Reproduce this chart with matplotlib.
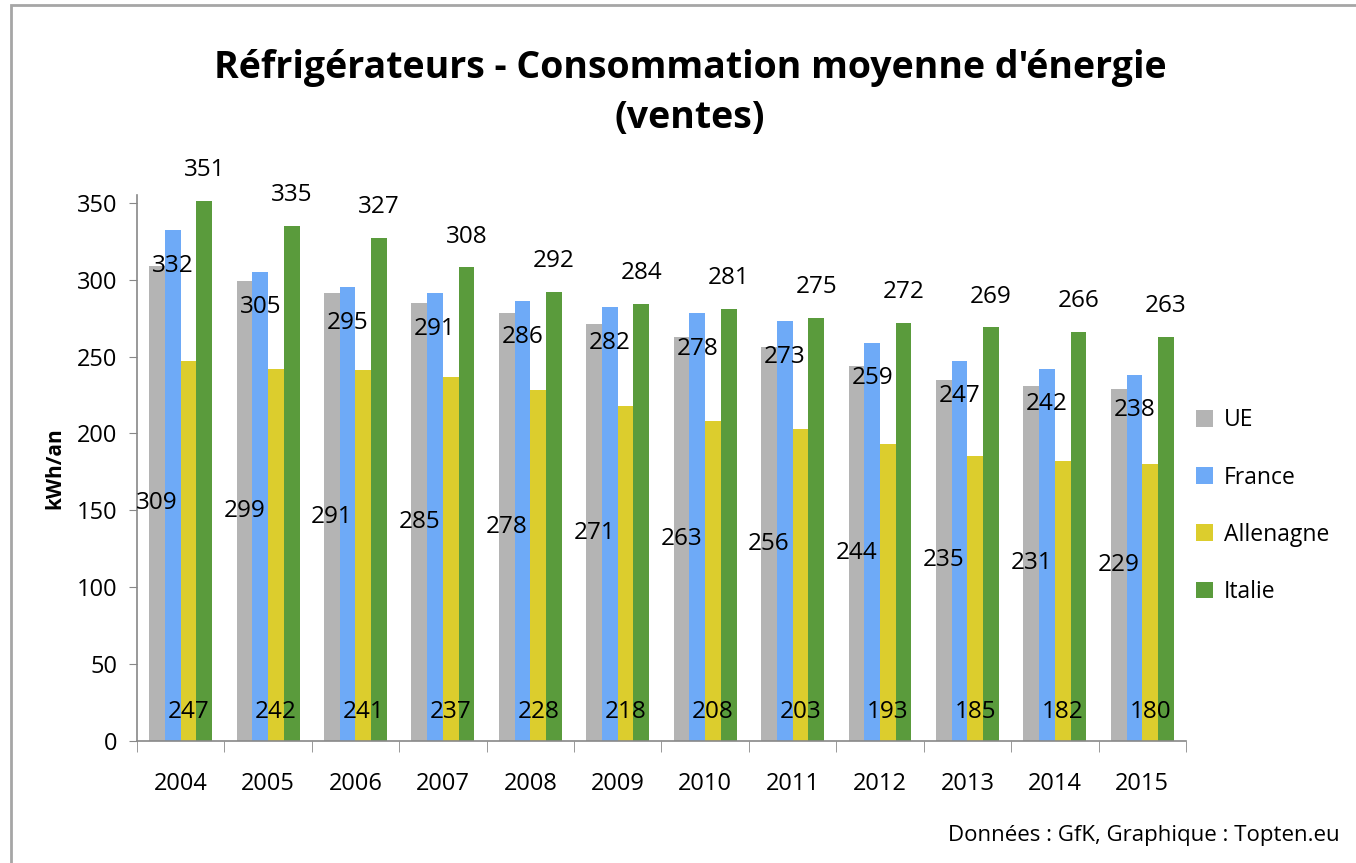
import numpy as np
import matplotlib
matplotlib.use('Agg')
import matplotlib.pyplot as plt
from matplotlib.patches import Rectangle

plt.rcParams['font.family'] = ['Open Sans', 'DejaVu Sans']

years = ['2004', '2005', '2006', '2007', '2008', '2009',
         '2010', '2011', '2012', '2013', '2014', '2015']
ue = [309, 299, 291, 285, 278, 271, 263, 256, 244, 235, 231, 229]
france = [332, 305, 295, 291, 286, 282, 278, 273, 259, 247, 242, 238]
allemagne = [247, 242, 241, 237, 228, 218, 208, 203, 193, 185, 182, 180]
italie = [351, 335, 327, 308, 292, 284, 281, 275, 272, 269, 266, 263]

names = ['UE', 'France', 'Allenagne', 'Italie']
colors = ['#b4b4b4', '#6eaaf7', '#dccd2d', '#5a9b3c']

fig = plt.figure(figsize=(13.56, 8.63), dpi=100)
ax = fig.add_axes([0.101, 0.1414, 0.7736, 0.6326])

# frame around the chart
fig.patches.append(Rectangle((0.008, -0.01), 1.0, 1.004, transform=fig.transFigure,
                             fill=False, edgecolor='#a6a6a6', linewidth=2))

x = np.arange(len(years))
w = 0.18
series = [ue, france, allemagne, italie]
for i, (vals, c, n) in enumerate(zip(series, colors, names)):
    ax.bar(x + (i - 1.5) * w, vals, w, color=c, label=n, zorder=2)

fs = 17.5
for j in range(len(years)):
    ax.text(x[j] - 1.5 * w, ue[j] / 2, str(ue[j]), ha='center', va='center', fontsize=fs)
    ax.text(x[j] - 0.5 * w, france[j] - 23, str(france[j]), ha='center', va='center', fontsize=fs)
    ax.text(x[j] + 0.5 * w, 19, str(allemagne[j]), ha='center', va='center', fontsize=fs)
    ax.text(x[j] + 1.5 * w, italie[j] + 20, str(italie[j]), ha='center', va='center', fontsize=fs)

ax.set_xlim(-0.5, len(years) - 0.5)
ax.set_ylim(0, 355)
ax.set_yticks(range(0, 351, 50))
ax.tick_params(axis='y', labelsize=17, length=6, color='#888888', direction='out', pad=8)
ax.set_xticks(x)
ax.set_xticklabels(years)
ax.tick_params(axis='x', labelsize=17, length=0, pad=22)
ax.set_xticks(np.arange(-0.5, len(years), 1), minor=True)
ax.tick_params(axis='x', which='minor', length=8, color='#888888', direction='out')
for s in ['top', 'right']:
    ax.spines[s].set_visible(False)
for s in ['left', 'bottom']:
    ax.spines[s].set_color('#888888')
    ax.spines[s].set_linewidth(1.2)

ax.set_ylabel('kWh/an', fontsize=15, fontweight='bold', labelpad=8)

fig.text(0.509, 0.892, "Réfrigérateurs - Consommation moyenne d'énergie\n(ventes)",
         ha='center', va='center', fontsize=27, fontweight='bold', linespacing=1.4)

leg = ax.legend(loc='center left', bbox_to_anchor=(0.99, 0.43), frameon=False,
                fontsize=16.5, handlelength=0.75, handleheight=0.75, labelspacing=1.45,
                handletextpad=0.45)

fig.text(0.988, 0.032, 'Données : GfK, Graphique : Topten.eu', ha='right', va='center',
         fontsize=16)

fig.savefig('out.png', dpi=100)
